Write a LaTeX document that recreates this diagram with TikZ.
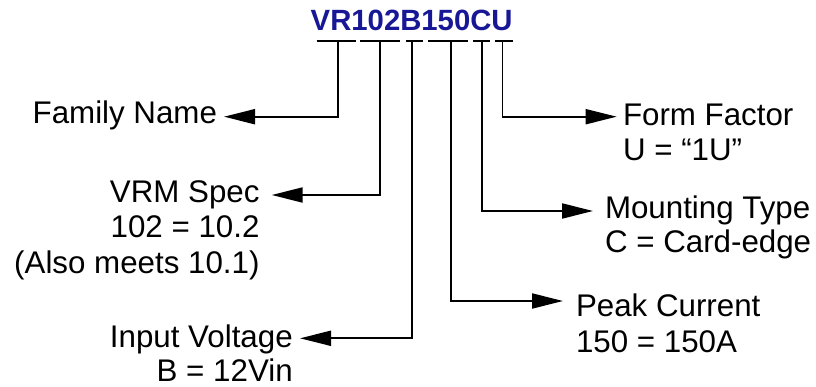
\documentclass[tikz,border=0pt]{standalone}
\usepackage{fontspec}
\setmainfont{Liberation Sans}
\usetikzlibrary{arrows.meta}
\definecolor{titleblue}{RGB}{24,24,150}
\tikzset{
  lab/.style={inner sep=0pt, outer sep=0pt, font=\fontsize{31.3}{35}\selectfont},
  conn/.style={line width=1.9pt, -{Triangle[length=31pt,width=15pt]}},
  bracket/.style={line width=1.9pt},
}
\begin{document}
\begin{tikzpicture}[x=1pt,y=-1pt]
\useasboundingbox (0,0) rectangle (816,387);
% title
\node[inner sep=0pt, anchor=base, text=titleblue, font=\fontsize{29.3}{33}\selectfont\bfseries] (title) at (411.7,30.5) {VR102B150CU};
% brackets under the code
\draw[bracket] (316.7,40.7) -- (355.7,40.7);
\draw[bracket] (360,40.7) -- (400,40.7);
\draw[bracket] (406,40.7) -- (422.7,40.7);
\draw[bracket] (428.3,40.7) -- (468.3,40.7);
\draw[bracket] (473.3,40.7) -- (490,40.7);
\draw[bracket] (495,40.7) -- (512.7,40.7);
\coordinate (v1) at (337.7,40.7);
\coordinate (v2) at (380,40.7);
\coordinate (v3) at (411.7,40.7);
\coordinate (v4) at (451,40.7);
\coordinate (v5) at (481.7,40.7);
\coordinate (v6) at (502.5,40.7);
% labels
\node[lab, anchor=base east] (fam) at (217,124) {Family Name};
\node[lab, anchor=base east] (vrm) at (259.5,203) {VRM Spec};
\node[lab, anchor=base east] (vrm2) at (259.5,238) {102 = 10.2};
\node[lab, anchor=base east] (vrm3) at (259.5,273) {(Also meets 10.1)};
\node[lab, anchor=base east] (inp) at (292.7,347) {Input Voltage};
\node[lab, anchor=base east] (inp2) at (292.7,381.7) {B = 12Vin};
\node[lab, anchor=base west] (pk) at (576,316.5) {Peak Current};
\node[lab, anchor=base west] (pk2) at (576,352.5) {150 = 150A};
\node[lab, anchor=base west] (mt) at (605,218.5) {Mounting Type};
\node[lab, anchor=base west] (mt2) at (605,252.7) {C = Card-edge};
\node[lab, anchor=base west] (ff) at (623,126) {Form Factor};
\node[lab, anchor=base west] (ff2) at (623,161) {U = “1U”};
% connectors
\draw[conn] (v1) |- ([xshift=7pt,yshift=7.3pt]fam.base east);
\draw[conn] (v2) |- ([xshift=12.2pt,yshift=8pt]vrm.base east);
\draw[conn] (v3) |- ([xshift=7.3pt,yshift=8.7pt]inp.base east);
\draw[conn] (v4) |- ([xshift=-13pt,yshift=15.5pt]pk.base west);
\draw[conn] (v5) |- ([xshift=-12pt,yshift=7.5pt]mt.base west);
\draw[conn] (v6) |- ([xshift=-6.3pt,yshift=9.3pt]ff.base west);
\end{tikzpicture}
\end{document}
